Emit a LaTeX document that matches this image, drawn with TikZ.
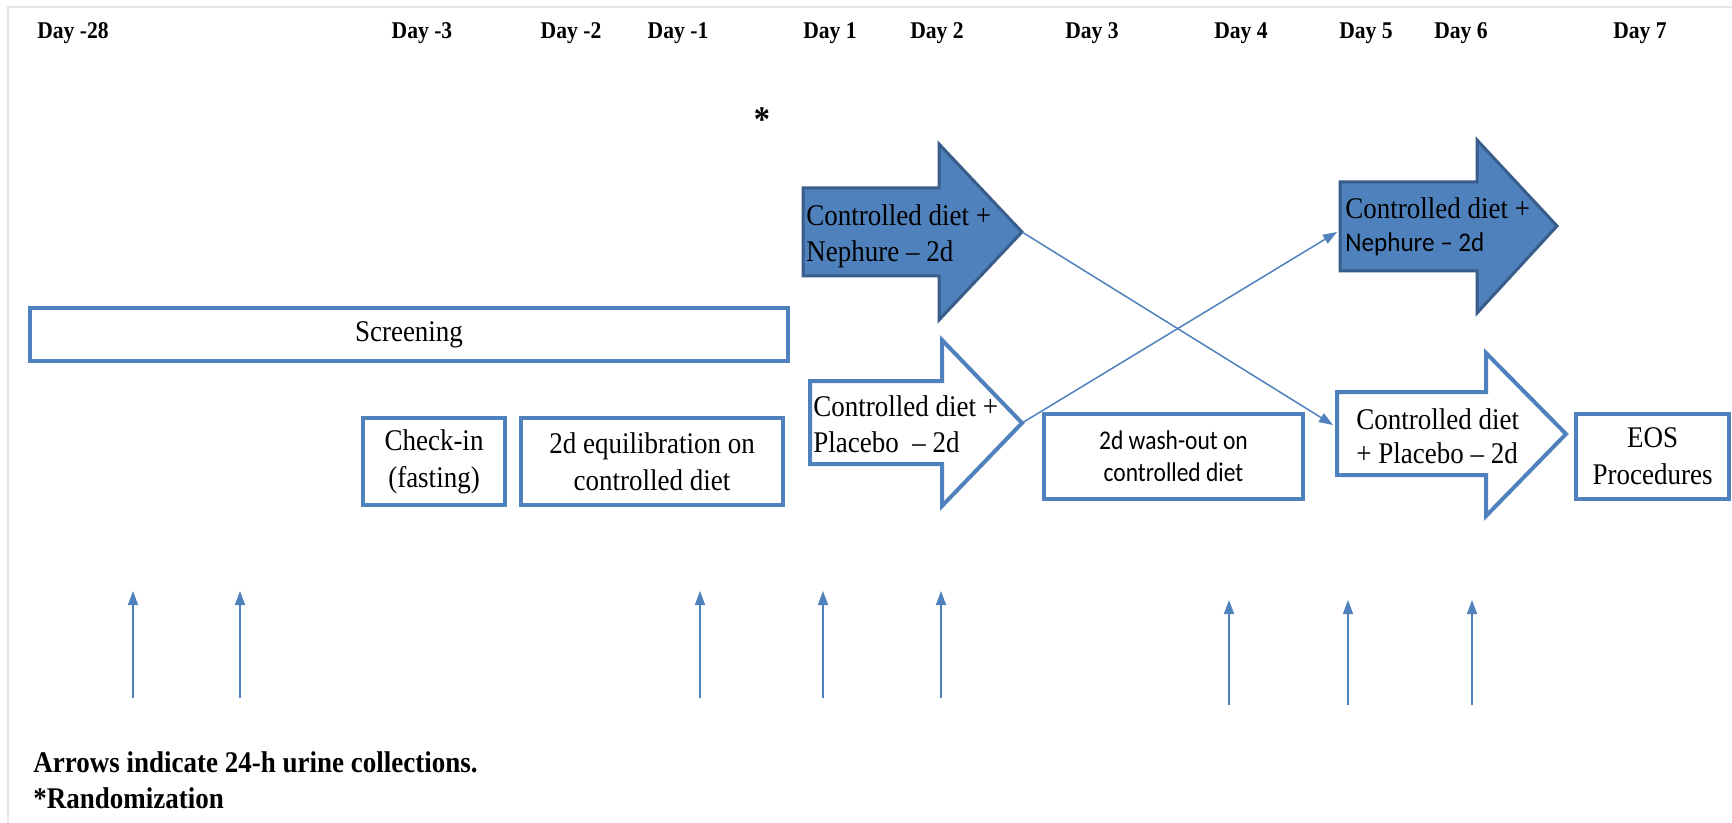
\documentclass[tikz,border=0pt]{standalone}
\usepackage{fontspec}
\setmainfont{Liberation Serif}
\newfontfamily\serifc[FakeStretch=0.9]{Liberation Serif}
\newfontfamily\calib[FakeStretch=0.87]{Carlito}
\newfontfamily\calibn[FakeStretch=0.93]{Carlito}
\usetikzlibrary{arrows.meta}
\definecolor{ob}{RGB}{79,129,189}
\definecolor{obd}{RGB}{56,93,138}
\begin{document}
\begin{tikzpicture}[x=0.5pt,y=-0.5pt,
  daylab/.style={font=\serifc\bfseries\fontsize{12}{14}\selectfont, anchor=center, inner sep=0pt},
  box/.style={draw=ob, line width=2pt, fill=white, inner sep=0pt},
  boxtxt/.style={font=\serifc\fontsize{15}{18.5}\selectfont, align=center},
  sanstxt/.style={font=\calib\fontsize{13.5}{16}\selectfont, align=center},
  arrtxt/.style={anchor=west, align=left, inner sep=0pt, font=\serifc\fontsize{15}{18}\selectfont},
  bigarrowfill/.style={fill=ob, draw=obd, line width=1.5pt, line join=miter},
  bigarrowopen/.style={fill=white, draw=ob, line width=2pt, line join=miter},
  conn/.style={draw=ob, line width=0.75pt, -{Triangle[length=7pt,width=5pt]}},
  foot/.style={anchor=base west, inner sep=0pt, font=\serifc\bfseries\fontsize{15}{17}\selectfont}
]
\useasboundingbox (0,0) rectangle (1732,823);
\fill[white] (0,0) rectangle (1732,823);
\draw[gray!20, line width=0.6pt] (8,823) -- (8,7) -- (1732,7);

% day labels
\node[daylab] (dm28) at (73,33) {Day -28};
\node[daylab] (dm3) at (422,33) {Day -3};
\node[daylab] (dm2) at (571,33) {Day -2};
\node[daylab] (dm1) at (678,33) {Day -1};
\node[daylab] (d1) at (830,33) {Day 1};
\node[daylab] (d2) at (937,33) {Day 2};
\node[daylab] (d3) at (1092,33) {Day 3};
\node[daylab] (d4) at (1241,33) {Day 4};
\node[daylab] (d5) at (1366,33) {Day 5};
\node[daylab] (d6) at (1461,33) {Day 6};
\node[daylab] (d7) at (1640,33) {Day 7};

\node[font=\serifc\bfseries\fontsize{18}{20}\selectfont, inner sep=0pt] (star) at (762,120) {*};

% boxes
\node[box, minimum width=379pt, minimum height=26.5pt, boxtxt] (scr) at (409,334.5) {Screening};
\node[box, minimum width=71pt, minimum height=43.5pt, boxtxt] (chk) at (434,461.5) {Check-in\\(fasting)};
\node[box, minimum width=131pt, minimum height=43.5pt, boxtxt] (equ) at (652,461.5) {2d equilibration on\\controlled diet};
\node[box, minimum width=129.5pt, minimum height=42.5pt, sanstxt] (wash) at (1173.5,456.5) {2d wash-out on\\controlled diet};
\node[box, minimum width=76.5pt, minimum height=42.5pt, boxtxt] (eos) at (1652.5,456.5) {EOS\\Procedures};

% treatment arrows
\path[bigarrowfill] (803,188) -- (939,188) -- (939,144) -- (1022,232) -- (939,320) -- (939,276) -- (803,276) -- cycle;
\coordinate (n1tip) at (1022,232);
\node[arrtxt] (n1txt) at (806,236) {Controlled diet +\\Nephure – 2d};

\path[bigarrowopen] (810,381) -- (942,381) -- (942,340) -- (1022,423) -- (942,506) -- (942,464) -- (810,464) -- cycle;
\coordinate (p1tip) at (1022,423);
\node[arrtxt] (p1txt) at (813,424) {Controlled diet +\\Placebo\ \ – 2d};

\path[bigarrowfill] (1340,182) -- (1477,182) -- (1477,140) -- (1557,226) -- (1477,313) -- (1477,271) -- (1340,271) -- cycle;
\coordinate (n2in) at (1337,232);
\node[arrtxt, font=\serifc\fontsize{15}{16.5}\selectfont] (n2txt) at (1345,227) {Controlled diet +\\{\calibn\fontsize{13.5}{16.5}\selectfont Nephure – 2d}};

\path[bigarrowopen] (1337,392) -- (1486,392) -- (1486,353) -- (1566,434) -- (1486,516) -- (1486,475) -- (1337,475) -- cycle;
\coordinate (p2in) at (1333,425);
\node[arrtxt, font=\serifc\fontsize{15}{17}\selectfont] (p2txt) at (1356,436) {Controlled diet\\+ Placebo – 2d};

% crossover connectors
\draw[conn] (n1tip) -- (p2in);
\draw[conn] (p1tip) -- (n2in);

% urine collection arrows
\foreach \i/\x/\yb/\yt in {1/133/698/591, 2/240/698/591, 3/700/698/591, 4/823/698/591, 5/941/698/591, 6/1229/705/600, 7/1348/705/600, 8/1472/705/600} {
  \coordinate (u\i b) at (\x,\yb);
  \coordinate (u\i t) at (\x,\yt);
  \draw[conn] (u\i b) -- (u\i t);
}

\node[foot] (f1) at (33,772) {Arrows indicate 24-h urine collections.};
\node[foot] (f2) at (33,808) {*Randomization};
\end{tikzpicture}
\end{document}
